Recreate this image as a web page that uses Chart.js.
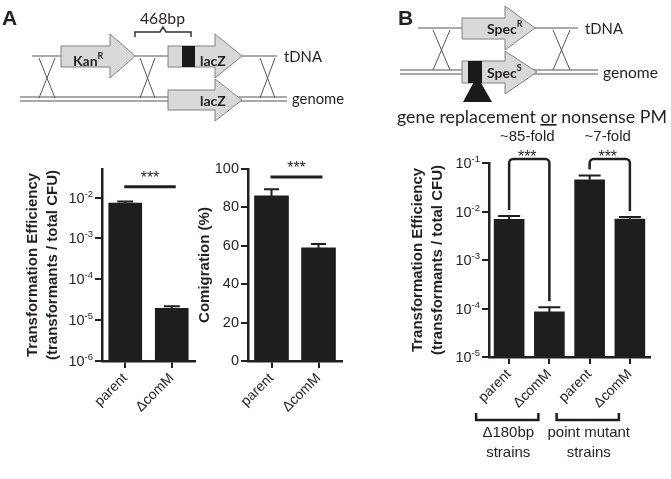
<!DOCTYPE html>
<html>
<head>
<meta charset="utf-8">
<script src="https://cdn.jsdelivr.net/npm/chart.js@4.4.1/dist/chart.umd.min.js"></script>
<style>
  body { margin: 0; background: #fff; }
  #wrap { position: relative; width: 671px; height: 479px; overflow: hidden; }
  #wrap canvas, #wrap svg { position: absolute; left: 0; top: 0; }
</style>
</head>
<body>
<div id="wrap">
  <canvas id="chartEffA" width="671" height="479"></canvas>
  <canvas id="chartComigA" width="671" height="479"></canvas>
  <canvas id="chartEffB" width="671" height="479"></canvas>

  <!-- construct diagrams -->
  <svg width="671" height="135" font-family="Lato, 'Open Sans', sans-serif" fill="#231f20">
    <!-- panel A -->
    <text x="2" y="25" font-family="'Liberation Sans', Arial" font-weight="bold" font-size="21">A</text>
    <text x="140" y="24" font-size="15" textLength="45" lengthAdjust="spacingAndGlyphs">468bp</text>
    <path d="M135,37 V32 H160 L163,27 L166,32 H191 V37" fill="none" stroke="#333" stroke-width="1.5"/>
    <g stroke="#555" stroke-width="1" fill="none">
      <path d="M32,56 H61 M135,56 H168 M242,56 H277"/>
      <path d="M20,97 H287 M20,101 H287"/>
      <path d="M39,58 L55,98 M55,58 L39,98 M140,58 L155,98 M155,58 L140,98 M260,58 L275,98 M275,58 L260,98"/>
    </g>
    <g fill="#d9d9d9" stroke="#808080" stroke-width="1">
      <polygon points="61,46 110,46 110,34 135,56 110,78 110,67 61,67"/>
      <polygon points="168,46 215,46 215,34 242,56 215,78 215,67 168,67"/>
      <polygon points="168,90 215,90 215,79 242,100 215,121 215,110 168,110"/>
    </g>
    <rect x="182" y="46" width="13" height="21" fill="#1a1a1a"/>
    <text x="73" y="66" font-size="14" font-weight="bold">Kan<tspan font-size="9" dy="-7">R</tspan></text>
    <text x="200" y="66" font-size="14" font-weight="bold">lacZ</text>
    <text x="200" y="106" font-size="14" font-weight="bold">lacZ</text>
    <text x="284" y="62" font-size="15" textLength="38" lengthAdjust="spacingAndGlyphs">tDNA</text>
    <text x="292" y="104" font-size="15" textLength="52" lengthAdjust="spacingAndGlyphs">genome</text>

    <!-- panel B -->
    <text x="398" y="25" font-family="'Liberation Sans', Arial" font-weight="bold" font-size="21">B</text>
    <g stroke="#555" stroke-width="1" fill="none">
      <path d="M418,28 H462 M535,28 H578"/>
      <path d="M400,70 H598 M400,74 H598"/>
      <path d="M433,30 L450,70 M450,30 L433,70 M553,30 L570,70 M570,30 L553,70"/>
    </g>
    <g fill="#d9d9d9" stroke="#808080" stroke-width="1">
      <polygon points="462,18 505,18 505,6 535,28 505,50 505,39 462,39"/>
      <polygon points="462,61 505,61 505,51 537,72 505,94 505,83 462,83"/>
    </g>
    <rect x="468" y="61" width="14" height="22" fill="#1a1a1a"/>
    <polygon points="477,76 463,102 492,102" fill="#1a1a1a"/>
    <text x="487" y="34" font-size="14" font-weight="bold">Spec<tspan font-size="9" dy="-7">R</tspan></text>
    <text x="487" y="78" font-size="14" font-weight="bold">Spec<tspan font-size="9" dy="-7">S</tspan></text>
    <text x="585" y="34" font-size="15" textLength="38" lengthAdjust="spacingAndGlyphs">tDNA</text>
    <text x="603" y="78" font-size="15" textLength="55" lengthAdjust="spacingAndGlyphs">genome</text>
    <text x="397" y="123" font-size="16.5" textLength="270" lengthAdjust="spacingAndGlyphs">gene replacement <tspan text-decoration="underline">or</tspan> nonsense PM</text>
  </svg>
</div>

<script>
// Data
const strainsA = ['parent', 'ΔcomM'];
const effA = [0.0073, 1.95e-5];
const effAErr = [0.0007, 0.25e-5];
const effATicks = [1e-6, 1e-5, 1e-4, 1e-3, 1e-2];

const comigA = [86, 59];
const comigAErr = [3.5, 2];

const strainsB = ['parent', 'ΔcomM', 'parent', 'ΔcomM'];
const effB = [0.0069, 8.5e-5, 0.045, 0.0070];
const effBErr = [0.0012, 2.1e-5, 0.0103, 0.0007];
const effBTicks = [1e-5, 1e-4, 1e-3, 1e-2, 1e-1];
const foldB = ['~85-fold', '~7-fold'];
const groupsB = [['Δ180bp', 'strains'], ['point mutant', 'strains']];

const FONT = "'Liberation Sans', Arial, sans-serif";
const INK = '#231f20';
const BAR = '#1e1e1e';
const PAGE_W = 671, PAGE_H = 479;

Chart.defaults.font.family = FONT;
Chart.defaults.color = INK;
Chart.defaults.animation = false;

// error bars (upper half only, like the original)
const errorBars = {
    id: 'errorBars',
    afterDatasetsDraw(chart, args, opts) {
        const ctx = chart.ctx, ys = chart.scales.y;
        const vals = chart.data.datasets[0].data;
        ctx.save();
        ctx.strokeStyle = BAR;
        ctx.lineWidth = 2;
        chart.getDatasetMeta(0).data.forEach((bar, i) => {
            const top = ys.getPixelForValue(vals[i] + opts.err[i]);
            ctx.beginPath();
            ctx.moveTo(bar.x, bar.y);
            ctx.lineTo(bar.x, top);
            ctx.moveTo(bar.x - opts.cap / 2, top);
            ctx.lineTo(bar.x + opts.cap / 2, top);
            ctx.stroke();
        });
        ctx.restore();
    }
};

// 10^n labels for log axes
const logLabels = {
    id: 'logLabels',
    afterDraw(chart) {
        const s = chart.scales.y;
        if (s.type !== 'logarithmic') return;
        const ctx = chart.ctx;
        const right = s.right - 9;
        ctx.save();
        ctx.fillStyle = INK;
        ctx.textAlign = 'right';
        ctx.textBaseline = 'alphabetic';
        s.ticks.forEach(t => {
            const y = s.getPixelForValue(t.value);
            const exp = String(Math.round(Math.log10(t.value)));
            ctx.font = '9.5px ' + FONT;
            const ew = ctx.measureText(exp).width;
            ctx.fillText(exp, right, y - 1);
            ctx.font = '14.5px ' + FONT;
            ctx.fillText('10', right - ew, y + 5);
        });
        ctx.restore();
    }
};

// straight significance line with stars (panel A)
const sigLine = {
    id: 'sigLine',
    afterDraw(chart, args, opts) {
        if (opts.level === undefined) return;
        const ctx = chart.ctx, xs = chart.scales.x, ys = chart.scales.y;
        const y = ys.getPixelForValue(opts.level);
        const x0 = xs.getPixelForValue(0) - 1, x1 = xs.getPixelForValue(1) + 4;
        ctx.save();
        ctx.strokeStyle = INK;
        ctx.lineWidth = 3;
        ctx.beginPath();
        ctx.moveTo(x0, y);
        ctx.lineTo(x1, y);
        ctx.stroke();
        ctx.fillStyle = INK;
        ctx.font = '16px ' + FONT;
        ctx.textAlign = 'center';
        ctx.fillText('***', (x0 + x1) / 2, y - 4);
        ctx.restore();
    }
};

// rounded brackets, fold labels and strain groups (panel B)
const foldBrackets = {
    id: 'foldBrackets',
    afterDraw(chart, args, opts) {
        if (!opts.pairs) return;
        const ctx = chart.ctx, xs = chart.scales.x, ys = chart.scales.y;
        const vals = chart.data.datasets[0].data;
        const err = chart.options.plugins.errorBars.err;
        const area = chart.chartArea;
        const top = area.top - 4;
        ctx.save();
        ctx.strokeStyle = INK;
        ctx.fillStyle = INK;
        ctx.lineWidth = 2.5;
        ctx.textAlign = 'center';
        opts.pairs.forEach(([a, b], k) => {
            const xa = xs.getPixelForValue(a), xb = xs.getPixelForValue(b);
            const ya = ys.getPixelForValue(vals[a] + err[a]) - 6;
            const yb = ys.getPixelForValue(vals[b] + err[b]) - 6;
            ctx.beginPath();
            ctx.moveTo(xa, ya);
            ctx.arcTo(xa, top, xb, top, 4);
            ctx.arcTo(xb, top, xb, yb, 4);
            ctx.lineTo(xb, yb);
            ctx.stroke();
            const mid = (xa + xb) / 2 - 2;
            ctx.font = '16px ' + FONT;
            ctx.fillText('***', mid, top + 3);
            ctx.font = '15px ' + FONT;
            ctx.fillText(opts.labels[k], mid, top - 18);
        });
        // strain groups under the rotated labels
        const gy = area.bottom + 63;
        opts.pairs.forEach(([a, b], k) => {
            const xa = xs.getPixelForValue(a) - 33, xb = xs.getPixelForValue(b) - 11;
            ctx.beginPath();
            ctx.moveTo(xa, gy - 7);
            ctx.lineTo(xa, gy);
            ctx.lineTo(xb, gy);
            ctx.lineTo(xb, gy - 7);
            ctx.stroke();
            const mid = (xs.getPixelForValue(a) + xs.getPixelForValue(b)) / 2 - 21;
            ctx.font = '15px ' + FONT;
            opts.groups[k].forEach((line, j) => ctx.fillText(line, mid, gy + 17 + j * 20));
        });
        ctx.restore();
    }
};

// one bar chart on a full-page canvas, chart area pinned with padding
function barChart(id, box, cfg) {
    const padLeft = box.titleX - 9.75;
    const isLog = cfg.type === 'logarithmic';
    const yScale = {
        type: cfg.type,
        min: cfg.min,
        max: cfg.max,
        grid: { display: true, drawOnChartArea: false, drawTicks: true, tickLength: 7, lineWidth: 2, color: INK },
        border: { display: true, width: 2.5, color: INK },
        title: {
            display: true,
            text: cfg.title,
            color: INK,
            padding: 0,
            font: { size: 15, weight: 'bold', lineHeight: 1.3 }
        },
        afterFit: s => { s.width = box.left - padLeft; }
    };
    if (isLog) {
        yScale.ticks = { display: false };
        yScale.afterBuildTicks = s => { s.ticks = cfg.ticks.map(v => ({ value: v })); };
    } else {
        yScale.ticks = { stepSize: cfg.step, color: INK, padding: 2, font: { size: 14.5 } };
    }

    return new Chart(document.getElementById(id), {
        type: 'bar',
        data: {
            labels: cfg.labels,
            datasets: [{
                data: cfg.values,
                backgroundColor: BAR,
                borderWidth: 0,
                barThickness: box.bar
            }]
        },
        options: {
            responsive: false,
            layout: { padding: { left: padLeft, top: box.top, right: PAGE_W - box.right, bottom: 0 } },
            plugins: {
                legend: { display: false },
                tooltip: { enabled: false },
                errorBars: { err: cfg.err, cap: box.cap },
                sigLine: cfg.sig || {},
                foldBrackets: cfg.brackets || {}
            },
            scales: {
                x: {
                    offset: true,
                    grid: { display: true, offset: false, drawOnChartArea: false, drawTicks: true, tickLength: 7, lineWidth: 2, color: INK },
                    border: { display: true, width: 2.5, color: INK },
                    ticks: { color: INK, padding: 2, minRotation: 45, maxRotation: 45, font: { size: 14 } },
                    afterFit: s => { s.height = PAGE_H - box.bottom; }
                },
                y: yScale
            }
        },
        plugins: [errorBars, logLabels, sigLine, foldBrackets]
    });
}

barChart('chartEffA',
    { left: 102, right: 195, top: 169, bottom: 361, titleX: 33, bar: 33, cap: 16 },
    {
        type: 'logarithmic', min: 1e-6, max: 0.05, ticks: effATicks,
        labels: strainsA, values: effA, err: effAErr,
        title: ['Transformation Efficiency', '(transformants / total CFU)'],
        sig: { level: 0.0183 }
    });

barChart('chartComigA',
    { left: 248, right: 342, top: 169, bottom: 361, titleX: 205, bar: 34, cap: 15 },
    {
        type: 'linear', min: 0, max: 100, step: 20,
        labels: strainsA, values: comigA, err: comigAErr,
        title: 'Comigration (%)',
        sig: { level: 95.8 }
    });

barChart('chartEffB',
    { left: 489, right: 650, top: 163, bottom: 357, titleX: 418, bar: 30, cap: 22 },
    {
        type: 'logarithmic', min: 1e-5, max: 0.1, ticks: effBTicks,
        labels: strainsB, values: effB, err: effBErr,
        title: ['Transformation Efficiency', '(transformants / total CFU)'],
        brackets: { pairs: [[0, 1], [2, 3]], labels: foldB, groups: groupsB }
    });
</script>
</body>
</html>
